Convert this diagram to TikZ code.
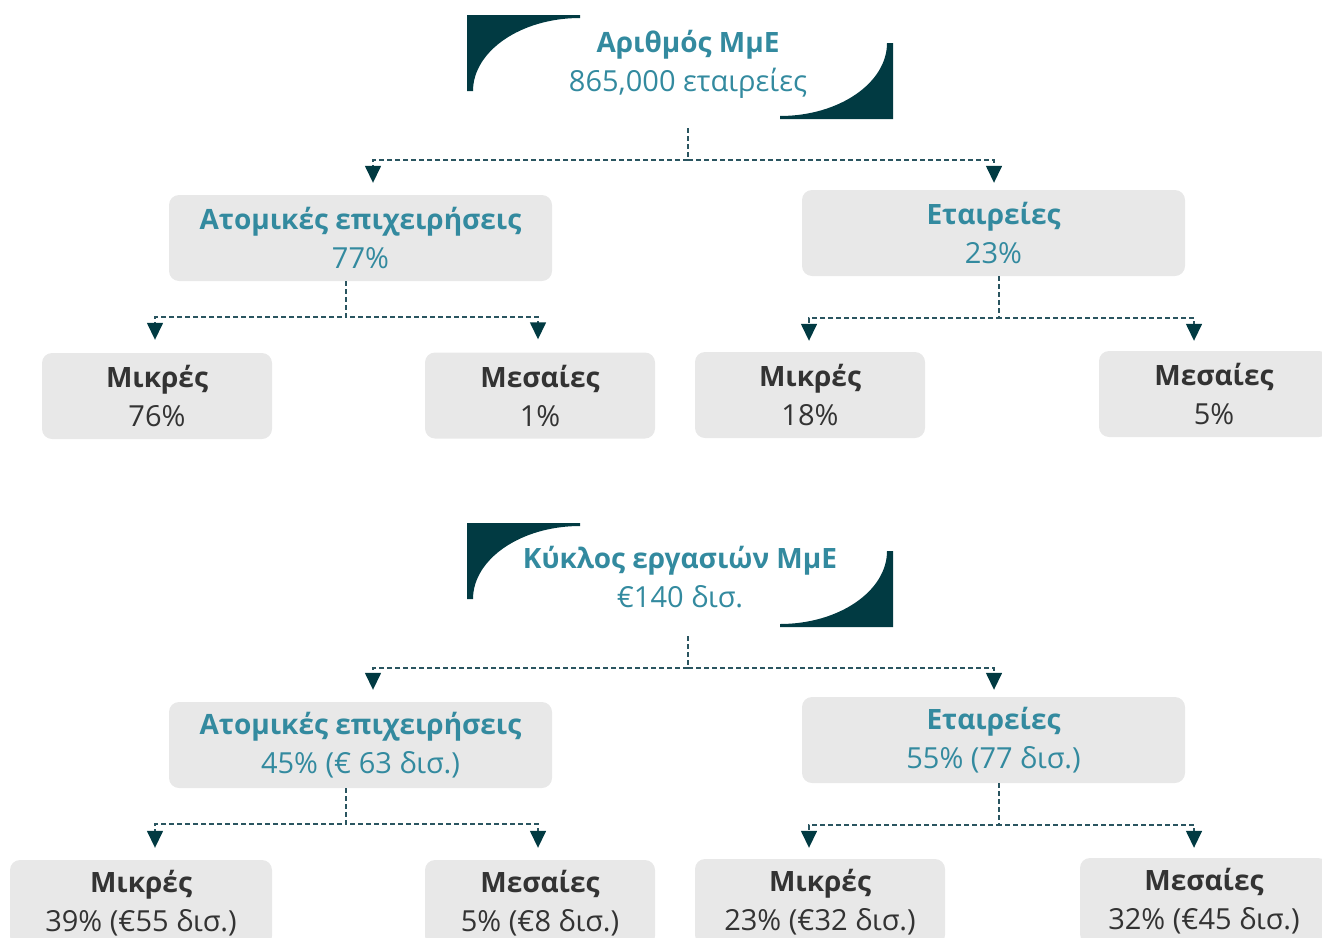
\documentclass[tikz,border=0pt]{standalone}
\usepackage{fontspec}
\setmainfont{Open Sans}
\usetikzlibrary{arrows.meta,calc}
\definecolor{darkteal}{HTML}{013A42}
\definecolor{tealtxt}{HTML}{338A9F}
\definecolor{boxgray}{HTML}{E8E8E8}
\definecolor{dashcol}{HTML}{2A5560}
\definecolor{leaftxt}{HTML}{333333}
\newcommand\boldline[1]{{\fontsize{28}{39}\selectfont\bfseries #1}}
\tikzset{
  box/.style={fill=boxgray, rounded corners=10pt, align=center, inner sep=0pt,
    font=\fontsize{29}{39}\selectfont, minimum height=86pt},
  lvlone/.style={box, text=tealtxt, minimum width=383pt},
  leaf/.style={box, text=leaftxt},
  header/.style={align=center, inner sep=0pt, text=tealtxt, font=\fontsize{29}{39}\selectfont},
  conn/.style={draw=dashcol, line width=1.5pt, dash pattern=on 5pt off 3pt,
    -{Triangle[width=16pt,length=17pt,fill=darkteal,color=darkteal]}},
}
\begin{document}
\begin{tikzpicture}[x=1pt,y=-1pt]
\useasboundingbox (0,0) rectangle (1322,937);
\clip (0,0) rectangle (1322,937);

% header decorations
\foreach \dy in {0,508}{
  \fill[darkteal] (467,15+\dy) -- (580,15+\dy) -- (580,18+\dy)
     .. controls (521,18+\dy) and (473,51+\dy) .. (473,91+\dy) -- (467,91+\dy) -- cycle;
  \fill[darkteal] (893,43+\dy) -- (893,119+\dy) -- (780,119+\dy) -- (780,116+\dy)
     .. controls (839,116+\dy) and (887,83+\dy) .. (887,43+\dy) -- cycle;
}

% ---------- top tree ----------
\node[header, minimum height=128pt] (h1) at (688,64) {\boldline{Αριθμός ΜμΕ}\\865,000 εταιρείες};
\node[lvlone] (a1) at (360.5,238) {\boldline{Ατομικές επιχειρήσεις}\\77\%};
\node[lvlone] (e1) at (993.5,233) {\boldline{Εταιρείες}\\23\%};
\node[leaf, minimum width=230pt] (m1) at (157,396) {\boldline{Μικρές}\\76\%};
\node[leaf, minimum width=230pt] (s1) at (540,395.5) {\boldline{Μεσαίες}\\1\%};
\node[leaf, minimum width=230pt] (m2) at (810,395) {\boldline{Μικρές}\\18\%};
\node[leaf, minimum width=230pt] (s2) at (1214,394) {\boldline{Μεσαίες}\\5\%};

\draw[conn] (h1.south) -- ++(0,32) -| ([xshift=12.5pt,yshift=12pt]a1.north);
\draw[conn] (h1.south) -- ++(0,32) -| ([xshift=0.5pt,yshift=7pt]e1.north);
\draw[conn] ([xshift=-14.5pt]a1.south) -- ++(0,36) -| ([xshift=-2pt,yshift=13pt]m1.north);
\draw[conn] ([xshift=-14.5pt]a1.south) -- ++(0,36) -| ([xshift=-2pt,yshift=13pt]s1.north);
\draw[conn] ([xshift=5.5pt]e1.south) -- ++(0,42) -| ([xshift=-1pt,yshift=11pt]m2.north);
\draw[conn] ([xshift=5.5pt]e1.south) -- ++(0,42) -| ([xshift=-20pt,yshift=10pt]s2.north);

% ---------- bottom tree ----------
\node[header, minimum height=118pt] (h2) at (680,577) {\boldline{Κύκλος εργασιών ΜμΕ}\\€140 δισ.};
\node[lvlone] (a2) at (360.5,745) {\boldline{Ατομικές επιχειρήσεις}\\45\% (€ 63 δισ.)};
\node[lvlone] (e2) at (993.5,740) {\boldline{Εταιρείες}\\55\% (77 δισ.)};
\node[leaf, minimum width=262pt] (m3) at (141,903) {\boldline{Μικρές}\\39\% (€55 δισ.)};
\node[leaf, minimum width=230pt] (s3) at (540,903) {\boldline{Μεσαίες}\\5\% (€8 δισ.)};
\node[leaf, minimum width=250pt] (m4) at (820,902) {\boldline{Μικρές}\\23\% (€32 δισ.)};
\node[leaf, minimum width=248pt] (s4) at (1204,901) {\boldline{Μεσαίες}\\32\% (€45 δισ.)};

\draw[conn] ([xshift=8pt]h2.south) -- ++(0,32) -| ([xshift=12.5pt,yshift=12pt]a2.north);
\draw[conn] ([xshift=8pt]h2.south) -- ++(0,32) -| ([xshift=0.5pt,yshift=7pt]e2.north);
\draw[conn] ([xshift=-14.5pt]a2.south) -- ++(0,36) -| ([xshift=14pt,yshift=12pt]m3.north);
\draw[conn] ([xshift=-14.5pt]a2.south) -- ++(0,36) -| ([xshift=-2pt,yshift=12pt]s3.north);
\draw[conn] ([xshift=5.5pt]e2.south) -- ++(0,42) -| ([xshift=-11pt,yshift=11pt]m4.north);
\draw[conn] ([xshift=5.5pt]e2.south) -- ++(0,42) -| ([xshift=-10pt,yshift=10pt]s4.north);
\end{tikzpicture}
\end{document}
